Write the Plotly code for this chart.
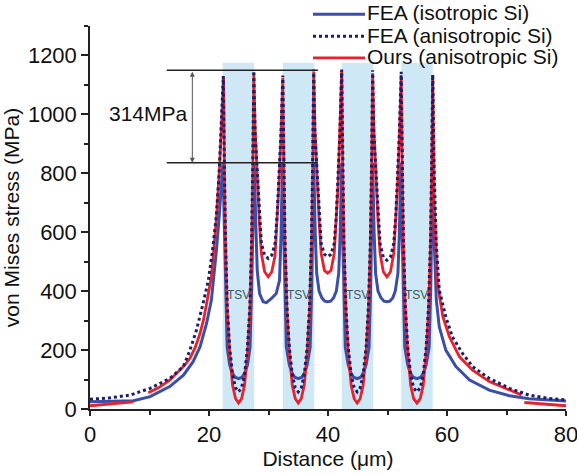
import plotly.graph_objects as go

# ---------------- data ----------------
# FEA (isotropic Si)
iso_x = [0, 7.3, 10.1, 13.4, 15.7, 17.3, 18.5, 19.6, 20.4, 21.0, 21.25, 21.7, 22.1, 22.35,
         22.55, 22.8, 23.05, 23.47, 23.87, 24.37, 24.97, 25.57, 26.07, 26.47, 26.9, 27.15, 27.4, 27.6,
         27.85, 28.1, 28.5, 29.1, 29.65, 30.5, 31.3, 31.85, 32.1, 32.35,
         32.5, 32.75, 33.0, 33.5, 33.9, 34.4, 35.0, 35.6, 36.1, 36.5, 37.0, 37.25, 37.45, 37.6,
         37.85, 38.1, 38.5, 38.95, 39.45, 39.95, 40.45, 40.95, 41.4, 41.8, 42.05, 42.3,
         42.4, 42.65, 42.9, 43.4, 43.8, 44.3, 44.9, 45.5, 46.0, 46.4, 46.9, 47.15, 47.35, 47.5,
         47.75, 48.0, 48.4, 48.9, 49.4, 49.9, 50.4, 50.9, 51.3, 51.75, 52.0, 52.25,
         52.4, 52.65, 52.9, 53.4, 53.8, 54.3, 54.95, 55.6, 56.1, 56.5, 57.0, 57.25, 57.45, 57.6,
         57.8, 58.0, 58.2, 58.7, 59.8, 61.5, 63.8, 67.1, 70.5, 73.8, 80]
iso_y = [25, 28, 42, 76, 115, 160, 211, 291, 370, 483, 539, 650, 780, 836,
         650, 400, 210, 150, 125, 108, 103, 108, 125, 150, 210, 400, 650, 836,
         641, 471, 392, 364, 361, 375, 392, 437, 585, 836,
         650, 400, 210, 150, 125, 108, 103, 108, 125, 150, 210, 400, 650, 836,
         600, 460, 400, 378, 366, 364, 366, 378, 400, 460, 600, 836,
         650, 400, 210, 150, 125, 108, 103, 108, 125, 150, 210, 400, 650, 836,
         600, 460, 400, 378, 366, 364, 366, 378, 400, 460, 600, 836,
         650, 400, 210, 150, 125, 108, 103, 108, 125, 150, 210, 400, 650, 836,
         600, 450, 370, 279, 200, 144, 98, 64, 45, 35, 27]

# FEA (anisotropic Si)
ani_x = [0, 3.4, 6.7, 10.1, 13.4, 15.7, 16.8, 17.9, 19.0, 19.9, 20.6, 21.2, 21.7, 22.1, 22.4,
         22.57, 22.77, 23.07, 23.47, 23.97, 24.47, 24.97, 25.47, 25.97, 26.47, 26.87, 27.17, 27.37, 27.53,
         27.75, 28.15, 28.45, 28.8, 29.35, 29.95, 30.55, 31.1, 31.45, 31.75, 32.1, 32.4,
         32.57, 32.77, 33.1, 33.5, 34.0, 34.5, 35.0, 35.5, 36.0, 36.5, 36.9, 37.23, 37.43, 37.6,
         37.8, 38.2, 38.5, 38.85, 39.4, 39.95, 40.5, 41.05, 41.4, 41.7, 42.0, 42.3,
         42.47, 42.67, 43.0, 43.4, 43.9, 44.4, 44.9, 45.4, 45.9, 46.4, 46.8, 47.13, 47.33, 47.5,
         47.7, 48.1, 48.4, 48.75, 49.3, 49.9, 50.5, 51.05, 51.4, 51.7, 52.0, 52.3,
         52.47, 52.67, 53.0, 53.4, 53.9, 54.4, 54.95, 55.5, 56.0, 56.5, 56.9, 57.23, 57.43, 57.6,
         57.85, 58.2, 58.7, 59.8, 60.9, 62.6, 64.3, 67.1, 70.5, 73.8, 77.2, 80]
ani_y = [33, 38, 47, 70, 104, 144, 200, 268, 358, 438, 539, 650, 800, 980, 1130,
         850, 580, 350, 210, 115, 72, 58, 72, 115, 210, 350, 580, 850, 1148,
         940, 780, 660, 562, 522, 511, 522, 562, 660, 780, 940, 1132,
         850, 580, 350, 210, 115, 72, 58, 72, 115, 210, 350, 580, 850, 1152,
         940, 780, 660, 562, 525, 517, 525, 562, 660, 780, 940, 1152,
         850, 580, 350, 210, 115, 72, 58, 72, 115, 210, 350, 580, 850, 1150,
         940, 780, 660, 562, 515, 505, 515, 562, 660, 780, 940, 1145,
         850, 580, 350, 210, 115, 72, 58, 72, 115, 210, 350, 580, 850, 1135,
         800, 560, 404, 313, 245, 189, 144, 104, 70, 47, 36, 31]

# Ours (anisotropic Si)  (None = break in the curve)
ours_x = [0, 3.5, 7.3, None,
          9.8, 11.5, 13.4, 15.7, 16.8, 17.7, 18.5, 19.1, 19.6, 20.0, 20.4, 20.8, 21.3, 21.8, 22.2, 22.45,
          22.6, 22.77, 23.07, 23.47, 23.97, 24.47, 24.97, 25.47, 25.97, 26.47, 26.87, 27.17, 27.37, 27.53,
          27.75, 28.15, 28.45, 28.8, 29.35, 29.95, 30.55, 31.1, 31.45, 31.75, 32.1, 32.4,
          32.57, 32.77, 33.1, 33.5, 34.0, 34.5, 35.0, 35.5, 36.0, 36.5, 36.9, 37.23, 37.43, 37.6,
          37.8, 38.2, 38.5, 38.85, 39.4, 39.95, 40.5, 41.05, 41.4, 41.7, 42.0, 42.3,
          42.47, 42.67, 43.0, 43.4, 43.9, 44.4, 44.9, 45.4, 45.9, 46.4, 46.8, 47.13, 47.33, 47.5,
          47.7, 48.1, 48.4, 48.75, 49.3, 49.9, 50.5, 51.05, 51.4, 51.7, 52.0, 52.3,
          52.47, 52.67, 53.0, 53.4, 53.9, 54.4, 54.95, 55.5, 56.0, 56.5, 56.9, 57.23, 57.43, 57.6,
          57.85, 58.4, 59.3, 60.4, 62.1, 64.3, 67.1, 70.5, 72.5, None,
          73.0, 76.5, 80]
ours_y = [11, 17, 24, None,
          55, 72, 98, 144, 172, 210, 257, 305, 358, 400, 449, 539, 660, 830, 1000, 1125,
          800, 550, 330, 190, 80, 35, 20, 35, 80, 190, 330, 550, 800, 1140,
          950, 760, 640, 528, 466, 449, 466, 520, 640, 760, 924, 1125,
          800, 550, 330, 190, 80, 35, 20, 35, 80, 190, 330, 550, 800, 1145,
          950, 760, 640, 528, 470, 461, 470, 528, 640, 760, 950, 1148,
          800, 550, 330, 190, 80, 35, 20, 35, 80, 190, 330, 550, 800, 1140,
          950, 760, 640, 528, 466, 449, 466, 528, 640, 760, 924, 1125,
          800, 550, 330, 190, 80, 35, 20, 35, 80, 190, 330, 550, 800, 1130,
          700, 426, 313, 245, 177, 132, 93, 64, 48, None,
          22, 16, 11]

# TSV regions
tsv_left = [22.3, 32.4, 42.3, 52.3]
tsv_right = [27.6, 37.7, 47.6, 57.6]
tsv_top = 1175
tsv_label = "TSV"
tsv_label_y = 387

# 314 MPa annotation
ref_hi = 1150
ref_lo = 836
ref_x0, ref_x1 = 12.9, 38.3
arrow_x = 17.2
diff_label = "314MPa"
diff_label_pos = (9.8, 1003)

# legend entries (drawn manually in paper coordinates)
legend_names = ["FEA (isotropic Si)", "FEA (anisotropic Si)", "Ours (anisotropic Si)"]
legend_rows_y = [1.031, 0.973, 0.917]

FONT = "Arial, Liberation Sans, sans-serif"
C_ISO = "#3b4fa6"
C_ANI = "#1b1f6a"
C_OURS = "#e8222c"
legend_styles = [dict(color=C_ISO, width=3), dict(color=C_ANI, width=3, dash="dot"),
                 dict(color=C_OURS, width=2.8)]

fig = go.Figure()
fig.add_trace(go.Scatter(x=iso_x, y=iso_y, mode="lines", name=legend_names[0],
                         line=legend_styles[0], showlegend=False))
fig.add_trace(go.Scatter(x=ours_x, y=ours_y, mode="lines", name=legend_names[2],
                         line=legend_styles[2], showlegend=False, connectgaps=False))
fig.add_trace(go.Scatter(x=ani_x, y=ani_y, mode="lines", name=legend_names[1],
                         line=legend_styles[1], showlegend=False))

for l, r in zip(tsv_left, tsv_right):
    fig.add_shape(type="rect", xref="x", yref="y", x0=l, x1=r, y0=0, y1=tsv_top,
                  fillcolor="#cfe8f6", line=dict(width=0), layer="below")
    fig.add_annotation(x=(l + r) / 2, y=tsv_label_y, text=tsv_label, showarrow=False,
                       font=dict(family=FONT, size=12, color="#44575c"))

for yv in (ref_hi, ref_lo):
    fig.add_shape(type="line", xref="x", yref="y", x0=ref_x0, x1=ref_x1, y0=yv, y1=yv,
                  line=dict(color="#222222", width=1.5))

fig.add_annotation(x=arrow_x, y=ref_lo, ax=arrow_x, ay=ref_hi, xref="x", yref="y",
                   axref="x", ayref="y", showarrow=True, arrowhead=2, arrowside="end+start",
                   arrowsize=1, arrowwidth=1, arrowcolor="#555555", text="")
fig.add_annotation(x=diff_label_pos[0], y=diff_label_pos[1], text=diff_label, showarrow=False,
                   font=dict(family=FONT, size=21, color="#111111"))

# manual legend
for name, sty, yy in zip(legend_names, legend_styles, legend_rows_y):
    fig.add_shape(type="line", xref="paper", yref="paper", x0=0.4685, x1=0.5777, y0=yy, y1=yy,
                  line=sty)
    fig.add_annotation(xref="paper", yref="paper", x=0.5777, y=yy + 0.003, text=name,
                       showarrow=False, xanchor="left", yanchor="middle",
                       font=dict(family=FONT, size=21, color="#111111"))

axis_common = dict(showline=True, linecolor="#222222", linewidth=1.5, showgrid=False,
                   zeroline=False, ticks="outside", tickwidth=1.5, tickcolor="#222222",
                   tickfont=dict(family=FONT, size=22, color="#111111"), mirror=False,
                   automargin=False, ticklabeloverflow="allow")

fig.update_xaxes(range=[0, 80], tickmode="linear", tick0=0, dtick=20, ticklen=5,
                 minor=dict(dtick=10, ticks="outside", ticklen=4, tickcolor="#222222", tickwidth=1.5),
                 title=dict(text="Distance (μm)", font=dict(family=FONT, size=21, color="#111111"),
                            standoff=0),
                 **axis_common)
fig.update_yaxes(range=[0, 1300], tickmode="linear", tick0=0, dtick=200, ticklen=7,
                 minor=dict(dtick=100, ticks="outside", ticklen=4, tickcolor="#222222", tickwidth=1.5),
                 title=dict(text="von Mises stress (MPa)", font=dict(family=FONT, size=21, color="#111111"),
                            standoff=5),
                 **axis_common)

fig.update_layout(
    width=577, height=475,
    margin=dict(l=90, r=11, t=26, b=66),
    paper_bgcolor="white", plot_bgcolor="white",
    showlegend=False,
    font=dict(family=FONT),
)

fig.write_html("out.html")
